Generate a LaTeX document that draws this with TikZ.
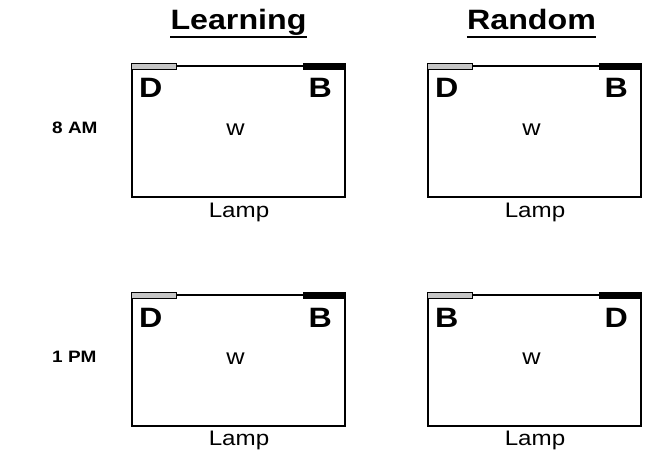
\documentclass[tikz,border=0pt]{standalone}
\usepackage{fontspec}
\setmainfont{Liberation Sans}
\usepackage{graphicx}
\newcommand{\stx}[1]{\scalebox{1.15}[1]{#1}}
\begin{document}
\begin{tikzpicture}[x=1pt,y=-1pt,
  panel/.style={draw, line width=1.4pt, minimum width=213pt, minimum height=131pt, inner sep=0pt},
  head/.style={font=\fontsize{28}{30}\selectfont\bfseries, inner sep=0pt, anchor=base},
  rowlab/.style={font=\fontsize{16.5}{18}\selectfont\bfseries, inner sep=0pt, anchor=base west},
  letter/.style={font=\fontsize{28}{30}\selectfont\bfseries, inner sep=0pt},
  wlab/.style={font=\fontsize{22}{24}\selectfont, inner sep=0pt, anchor=base},
  lamp/.style={font=\fontsize{21}{23}\selectfont, inner sep=0pt, anchor=base},
  lightbar/.style={draw, line width=0.8pt, fill=gray!45},
  darkbar/.style={fill=black},
  uline/.style={line width=2.4pt}]
\useasboundingbox[fill=white] (0,0) rectangle (648,452);

% headings
\node[head] (hl) at (238.5,30) {\stx{Learning}};
\node[head] (hr) at (531.5,30) {\stx{Random}};
\draw[uline] ([yshift=-7pt]hl.base west) -- ([yshift=-7pt]hl.base east);
\draw[uline] ([yshift=-7pt]hr.base west) -- ([yshift=-7pt]hr.base east);

% row labels
\node[rowlab] (r1) at (52,133) {\stx{8 AM}};
\node[rowlab] (r2) at (52,362) {\stx{1 PM}};

% panels
\node[panel] (p1) at (238.5,131.5) {};
\node[panel] (p2) at (534.5,131.5) {};
\node[panel] (p3) at (238.5,360.5) {};
\node[panel] (p4) at (534.5,360.5) {};

% bars
\foreach \p in {p1,p2,p3,p4}{
  \draw[lightbar] ([yshift=2pt]\p.north west) rectangle ([xshift=45pt,yshift=-4.5pt]\p.north west);
  \fill[darkbar] ([xshift=-43pt,yshift=2pt]\p.north east) rectangle ([yshift=-5pt]\p.north east);
}

% letters
\node[letter, anchor=base west] (d1) at (139,98) {\stx{D}};
\node[letter, anchor=base east] (b1) at (332,98) {\stx{B}};
\node[letter, anchor=base west] (d2) at (435,98) {\stx{D}};
\node[letter, anchor=base east] (b2) at (628,98) {\stx{B}};
\node[letter, anchor=base west] (d3) at (139,327) {\stx{D}};
\node[letter, anchor=base east] (b3) at (332,327) {\stx{B}};
\node[letter, anchor=base west] (b4) at (435,327) {\stx{B}};
\node[letter, anchor=base east] (d4) at (628,327) {\stx{D}};

% w
\node[wlab] (w1) at (235.5,135) {\stx{w}};
\node[wlab] (w2) at (531.5,135) {\stx{w}};
\node[wlab] (w3) at (235.5,364) {\stx{w}};
\node[wlab] (w4) at (531.5,364) {\stx{w}};

% lamp
\node[lamp] (l1) at (239,217) {\stx{Lamp}};
\node[lamp] (l2) at (535,217) {\stx{Lamp}};
\node[lamp] (l3) at (239,445) {\stx{Lamp}};
\node[lamp] (l4) at (535,445) {\stx{Lamp}};
\end{tikzpicture}
\end{document}
